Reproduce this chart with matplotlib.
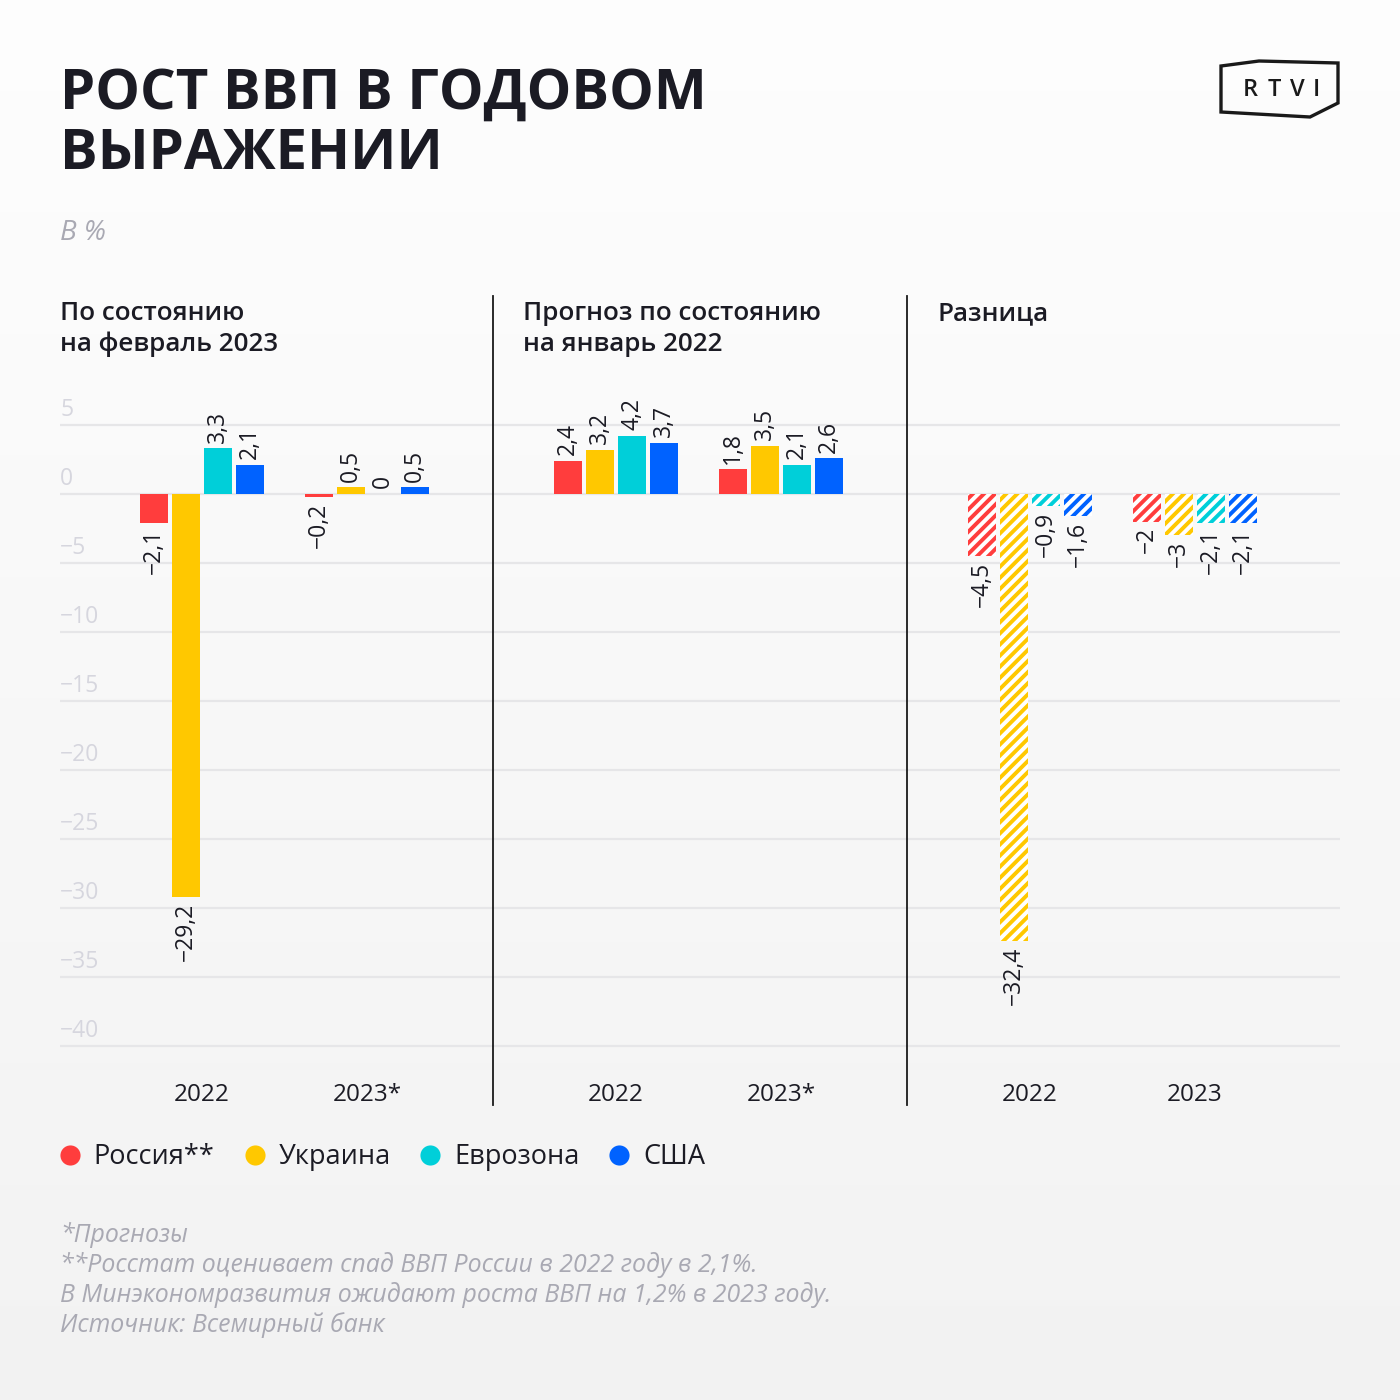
import matplotlib
matplotlib.use("Agg")
import numpy as np
import matplotlib.pyplot as plt
from matplotlib.lines import Line2D
from matplotlib.patches import Polygon

# ---------------- data ----------------
countries = ["Россия**", "Украина", "Еврозона", "США"]
colors = ["#ff3d3d", "#ffc800", "#00cfd9", "#0062ff"]

panel_titles = ["По состоянию\nна февраль 2023",
                "Прогноз по состоянию\nна январь 2022",
                "Разница"]
panel_years = [["2022", "2023*"], ["2022", "2023*"], ["2022", "2023"]]

feb2023_2022 = [-2.1, -29.2, 3.3, 2.1]
feb2023_2023 = [-0.2, 0.5, 0.0, 0.5]
jan2022_2022 = [2.4, 3.2, 4.2, 3.7]
jan2022_2023 = [1.8, 3.5, 2.1, 2.6]
diff_2022 = [-4.5, -32.4, -0.9, -1.6]
diff_2023 = [-2.0, -3.0, -2.1, -2.1]

panels = [[feb2023_2022, feb2023_2023],
          [jan2022_2022, jan2022_2023],
          [diff_2022, diff_2023]]
hatched = [False, False, True]

yticks = [5, 0, -5, -10, -15, -20, -25, -30, -35, -40]

title = "РОСТ ВВП В ГОДОВОМ\nВЫРАЖЕНИИ"
subtitle = "В %"
footnotes = ["*Прогнозы",
             "**Росстат оценивает спад ВВП России в 2022 году в 2,1%.",
             "В Минэкономразвития ожидают роста ВВП на 1,2% в 2023 году.",
             "Источник: Всемирный банк"]

# ---------------- style ----------------
FONT = ["Open Sans", "DejaVu Sans"]
plt.rcParams["font.family"] = FONT
plt.rcParams["hatch.linewidth"] = 2.8

DARK = "#1b1b24"
GRID = "#e6e6e8"
TICK = "#d6d6de"
NOTE = "#a9a9b3"

W = H = 1400
fig = plt.figure(figsize=(14, 14), dpi=100, facecolor="#f7f7f7")

# background vertical gradient
bg = fig.add_axes([0, 0, 1, 1], zorder=-10)
grad = np.linspace(0.995, 0.950, 256).reshape(-1, 1)
bg.imshow(np.dstack([grad, grad, grad]), aspect="auto", extent=(0, 1, 0, 1),
          interpolation="bicubic")
bg.set_axis_off()


def fx(px):
    return px / W


def fy(py):
    return 1 - py / H


def fmt(v):
    if v == 0:
        return "0"
    s = ("%g" % abs(v)).replace(".", ",")
    return ("\u2212" if v < 0 else "") + s


# axes geometry (pixels)
top_px, bot_px, zero_px, ppu = 296, 1105, 494, 13.8
ylim = (-(bot_px - zero_px) / ppu, (zero_px - top_px) / ppu)
panel_px = [(60, 493, 142), (493, 907, 123), (907, 1340, 123)]
spacing = 165.0
bw = 28 / spacing
step = 32 / spacing

for pi, (x0, x1, c0) in enumerate(panel_px):
    ax = fig.add_axes([fx(x0), fy(bot_px), fx(x1 - x0), (bot_px - top_px) / H])
    ax.set_facecolor("none")
    ax.set_xlim(-c0 / spacing, (x1 - x0 - c0) / spacing)
    ax.set_ylim(*ylim)
    for s in ["top", "right", "bottom"]:
        ax.spines[s].set_visible(False)
    if pi == 0:
        ax.spines["left"].set_visible(False)
    else:
        ax.spines["left"].set_color("#1a1a1a")
        ax.spines["left"].set_linewidth(1.3)
    ax.set_xticks([])
    ax.set_yticks([])
    for t in yticks:
        ax.axhline(t, color=GRID, lw=1.6, zorder=0)
        if pi == 0:
            ax.annotate(fmt(t), xy=(0, t), xycoords=ax.get_yaxis_transform(),
                        xytext=(0, 2), textcoords="offset points",
                        ha="left", va="bottom", fontsize=16.5, color=TICK)
    for gi, vals in enumerate(panels[pi]):
        for ci, v in enumerate(vals):
            x = gi + (ci - 1.5) * step
            if hatched[pi]:
                ax.bar(x, v, width=bw, color="white", edgecolor=colors[ci],
                       hatch="///", linewidth=0, zorder=2)
            else:
                ax.bar(x, v, width=bw, color=colors[ci], linewidth=0, zorder=2)
            ax.annotate(fmt(v), xy=(x, v), xytext=(0, 4 if v >= 0 else -4),
                        textcoords="offset points", rotation=90,
                        ha="center", va="bottom" if v >= 0 else "top",
                        fontsize=16.5, color=DARK)
        ax.text(gi, -(1095 - zero_px) / ppu, panel_years[pi][gi],
                ha="center", va="center", fontsize=17.5, color=DARK,
                fontweight="medium")
    fig.text(fx(x0 + (0 if pi == 0 else 30)), fy(301), panel_titles[pi],
             ha="left", va="top", fontsize=18.7, color=DARK,
             fontweight="semibold", linespacing=1.3)

# title & subtitle
fig.text(fx(60), fy(67), title, ha="left", va="top", fontsize=40.5,
         fontweight="bold", color=DARK, linespacing=1.13)
fig.text(fx(60), fy(233), subtitle, ha="left", va="center", fontsize=20,
         style="italic", color=NOTE)

# logo
logo = Polygon([(fx(1221), fy(66)), (fx(1259), fy(61)), (fx(1338), fy(63)),
                (fx(1338), fy(103)), (fx(1310), fy(117)), (fx(1221), fy(112))],
               closed=True, fill=False, edgecolor="#1a1a1a", lw=2.4,
               transform=fig.transFigure)
fig.patches.append(logo)
for ch, px in zip("RTVI", [1250, 1274, 1297, 1316]):
    fig.text(fx(px), fy(90), ch, ha="center", va="center", fontsize=17,
             fontweight="semibold", color="#1a1a1a")

# legend
handles = [Line2D([], [], ls="none", marker="o", markersize=14.5,
                  markerfacecolor=c, markeredgewidth=0) for c in colors]
leg = fig.legend(handles, countries, loc="center left",
                 bbox_to_anchor=(fx(49), fy(1157)), ncol=4, frameon=False,
                 handlelength=0.55, handletextpad=0.6, columnspacing=1.2,
                 borderpad=0, prop={"size": 19.5, "weight": "medium"})
for t in leg.get_texts():
    t.set_color(DARK)

# footnotes
for i, line in enumerate(footnotes):
    fig.text(fx(60), fy(1235 + 30 * i), line, ha="left", va="center",
             fontsize=17.9, style="italic", color=NOTE)

fig.savefig("out.png", dpi=100)
